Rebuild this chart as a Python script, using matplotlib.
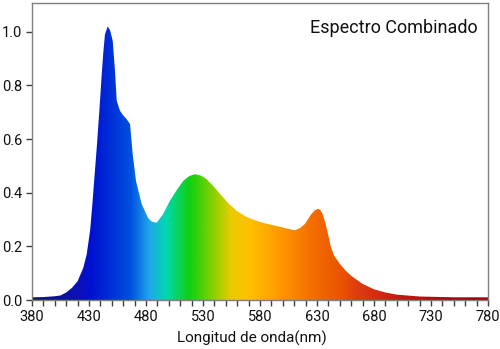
import numpy as np
import matplotlib
matplotlib.use("Agg")
import matplotlib.pyplot as plt
from matplotlib.colors import LinearSegmentedColormap

plt.rcParams['font.family'] = ['Roboto', 'DejaVu Sans']

wavelength = [380, 390, 400, 405, 410, 415, 420, 425, 428, 431, 433, 435, 437, 439, 441, 442.5, 444, 446.4,
              448.5, 450.8, 452.8, 454.3, 457.2, 460, 463, 466, 468.3, 471.2, 476.2, 481.8,
              485, 489.4, 495, 501, 507, 512.7, 518, 523, 528, 533, 539, 545, 552, 559.6,
              568, 577, 585, 594.6, 603, 610.7, 615, 619.5, 625, 628, 631, 633, 635, 637.5, 639.6,
              642, 645, 650, 655, 660, 670, 680, 690, 700, 720, 750, 780]
intensity = [0.010, 0.011, 0.014, 0.017, 0.028, 0.045, 0.07, 0.12, 0.17, 0.26, 0.36, 0.47, 0.58, 0.70, 0.83, 0.92, 0.99, 1.02,
             1.005, 0.966, 0.854, 0.743, 0.705, 0.688, 0.674, 0.656, 0.545, 0.444, 0.358, 0.306,
             0.292, 0.288, 0.32, 0.37, 0.41, 0.444, 0.462, 0.469, 0.464, 0.451, 0.425, 0.395, 0.362, 0.332,
             0.31, 0.295, 0.285, 0.276, 0.267, 0.26, 0.268, 0.284, 0.32, 0.334, 0.34, 0.335, 0.32, 0.285, 0.246,
             0.20, 0.165, 0.135, 0.11, 0.09, 0.06, 0.04, 0.028, 0.02, 0.013, 0.01, 0.01]

color_nm = [380, 420, 431, 466, 483, 497, 518, 540, 554, 571, 598, 624, 655, 663, 703, 747, 780]
color_hex = ['#14147a', '#0a10b8', '#0010d0', '#0050e0', '#20a8e8', '#00d8b0', '#10d010', '#90d000',
             '#e8cc00', '#ffc000', '#ff9800', '#f47000', '#e85000', '#e04010', '#c81810', '#b00010', '#a00010']

xmin, xmax = 380, 780
ymax = 1.107
cmap = LinearSegmentedColormap.from_list(
    'spec', [((n - xmin) / (xmax - xmin), c) for n, c in zip(color_nm, color_hex)])

fig = plt.figure(figsize=(5.0, 3.49), dpi=100)
ax = fig.add_axes([0.064, 0.1404, 0.912, 0.851])

grad = np.linspace(0, 1, 800).reshape(1, -1)
im = ax.imshow(grad, cmap=cmap, extent=[xmin, xmax, 0, ymax], aspect='auto',
               origin='lower', interpolation='bilinear')
poly = ax.fill_between(wavelength, intensity, 0, color='none', lw=0)
clip = poly.get_paths()[0]
im.set_clip_path(clip, transform=ax.transData)

ax.set_xlim(xmin, xmax)
ax.set_ylim(0, ymax)
ax.set_xticks(np.arange(380, 781, 50))
ax.set_xticks(np.arange(380, 781, 10), minor=True)
ax.set_yticks(np.arange(0, 1.01, 0.2))
ax.set_yticklabels(['0.0', '0.2', '0.4', '0.6', '0.8', '1.0'])

for s in ax.spines.values():
    s.set_color('#808080')
    s.set_linewidth(1.0)
ax.tick_params(axis='both', which='both', direction='out', color='#404040', labelsize=10.5,
               labelcolor='#111111')
ax.tick_params(axis='x', which='major', length=4.5, width=1, pad=3)
ax.tick_params(axis='x', which='minor', length=4.5, width=1)
ax.tick_params(axis='y', which='major', length=4, width=1, pad=3)

ax.set_xlabel('Longitud de onda(nm)', fontsize=11, color='#111111')
ax.xaxis.set_label_coords(0.4825, -0.128)
ax.xaxis.label.set_va('center')
ax.text(0.978, 0.916, 'Espectro Combinado', transform=ax.transAxes, ha='right', va='center',
        fontsize=13, color='#111111')

fig.savefig('out.png', dpi=100)
